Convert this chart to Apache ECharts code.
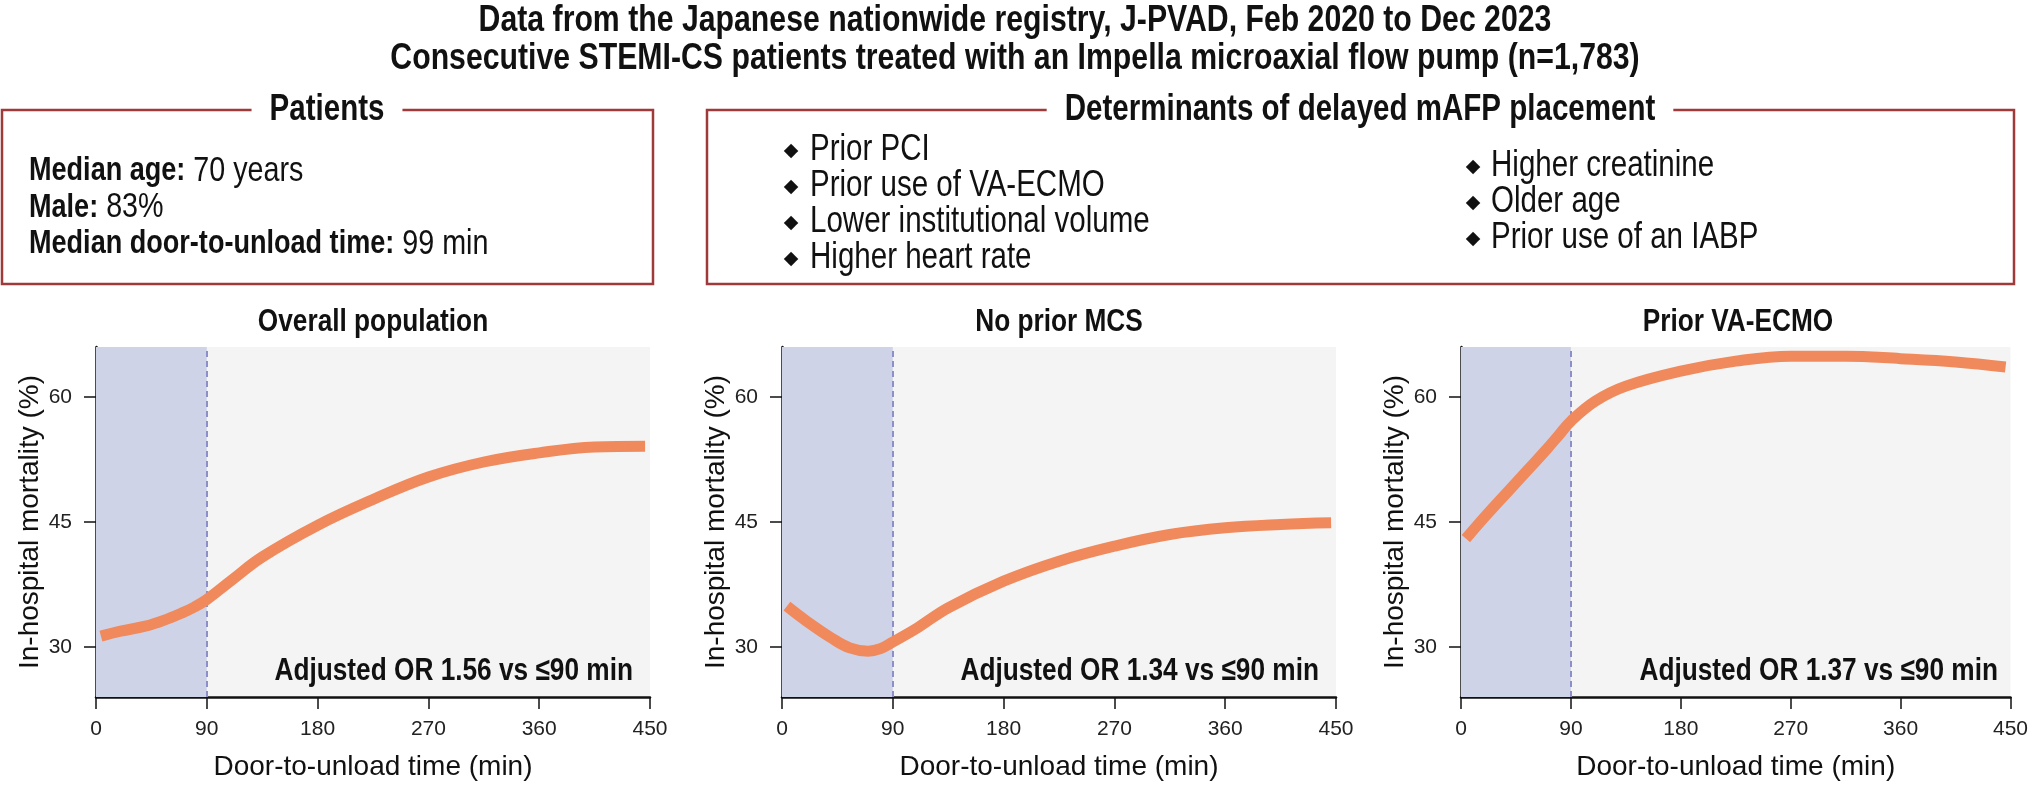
<!DOCTYPE html>
<html>
<head>
<meta charset="utf-8">
<script src="https://cdn.jsdelivr.net/npm/echarts@6/dist/echarts.min.js"></script>
<style>
html,body{margin:0;padding:0;background:#fff;}
#c{width:2031px;height:787px;}
</style>
</head>
<body>
<div id="c"></div>
<script>
// ---------- data ----------
const titleLines = [
  'Data from the Japanese nationwide registry, J-PVAD, Feb 2020 to Dec 2023',
  'Consecutive STEMI-CS patients treated with an Impella microaxial flow pump (n=1,783)'
];
const patientsHeading = 'Patients';
const patientLines = [
  ['Median age:', '70 years'],
  ['Male:', '83%'],
  ['Median door-to-unload time:', '99 min']
];
const determinantsHeading = 'Determinants of delayed mAFP placement';
const determinantsLeft = ['Prior PCI', 'Prior use of VA-ECMO', 'Lower institutional volume', 'Higher heart rate'];
const determinantsRight = ['Higher creatinine', 'Older age', 'Prior use of an IABP'];

const panelTitles = ['Overall population', 'No prior MCS', 'Prior VA-ECMO'];
const orLabels = ['Adjusted OR 1.56 vs \u226490 min', 'Adjusted OR 1.34 vs \u226490 min', 'Adjusted OR 1.37 vs \u226490 min'];
const xAxisTitle = 'Door-to-unload time (min)';
const yAxisTitle = 'In-hospital mortality (%)';
const yTicks = [30, 45, 60];
const cutoff = 90;

const times      = [4, 20, 40, 55, 70, 80, 90, 110, 135, 180, 225, 270, 315, 360, 405, 446];
const overall    = [31.3, 31.9, 32.5, 33.2, 34.1, 34.8, 35.7, 38.0, 40.8, 44.6, 47.7, 50.4, 52.2, 53.3, 54.0, 54.1];
const noPriorMcs = [34.9, 33.1, 31.1, 29.9, 29.5, 29.8, 30.6, 32.3, 34.7, 37.9, 40.3, 42.1, 43.5, 44.3, 44.7, 44.9];
const priorEcmo  = [43.0, 45.7, 48.9, 51.3, 53.7, 55.4, 57.1, 59.5, 61.3, 63.1, 64.3, 64.9, 64.9, 64.6, 64.2, 63.6];
const seriesValues = [overall, noPriorMcs, priorEcmo];

// ---------- style ----------
const FF = '"Liberation Sans", Arial, sans-serif';
const SX = 0.82; // horizontal squeeze to mimic a condensed face
const BOX = '#9f3a3a';
const LINE = '#f08a5d';
const SHADE = '#cfd3e8';
const PLOTBG = '#f4f4f4';
const DASH = '#8d90c8';

const panelLeft = [96, 782, 1461];
const panelW = 554, panelTop = 347, panelH = 350;

const chart = echarts.init(document.getElementById('c'), null, {renderer: 'canvas'});

const grids = [], xAxes = [], yAxes = [], series = [], graphics = [];

function txt(x, y, text, font, align, extra, sx) {
  return {type: 'text', x: x, y: y, z: 10, scaleX: sx || SX,
    style: Object.assign({text: text, fill: '#111', font: font, align: align, verticalAlign: 'middle'}, extra || {})};
}

panelLeft.forEach((l, i) => {
  grids.push({left: l, top: panelTop, width: panelW, height: panelH, show: true,
    backgroundColor: PLOTBG, borderWidth: 0, containLabel: false});
  xAxes.push({type: 'value', gridIndex: i, min: 0, max: 450, interval: 90,
    axisLine: {show: true, onZero: false, lineStyle: {color: '#111', width: 2.5}},
    axisTick: {show: true, length: 12, lineStyle: {color: '#111', width: 1.5}},
    axisLabel: {fontFamily: FF, fontSize: 21, color: '#222', margin: 22},
    splitLine: {show: false},
    name: xAxisTitle, nameLocation: 'middle', nameGap: 56,
    nameTextStyle: {fontFamily: FF, fontSize: 28, color: '#111'}});
  yAxes.push({type: 'value', gridIndex: i, min: 24, max: 66,
    axisLine: {show: true, onZero: false, lineStyle: {color: '#111', width: 2.5}},
    axisTick: {show: true, length: 12, customValues: yTicks, lineStyle: {color: '#111', width: 1.5}},
    axisLabel: {fontFamily: FF, fontSize: 21, color: '#222', margin: 24, customValues: yTicks},
    splitLine: {show: false},
    name: yAxisTitle, nameLocation: 'middle', nameGap: 50, nameRotate: 90,
    nameTextStyle: {fontFamily: FF, fontSize: 28, color: '#111'}});
  series.push({type: 'line', xAxisIndex: i, yAxisIndex: i,
    data: times.map((t, k) => [t, seriesValues[i][k]]),
    smooth: 0.4, showSymbol: false, symbol: 'none', z: 5,
    lineStyle: {color: LINE, width: 11, cap: 'butt'},
    markArea: {silent: true, itemStyle: {color: SHADE}, data: [[{xAxis: 0}, {xAxis: cutoff}]]},
    markLine: {silent: true, symbol: 'none', label: {show: false},
      lineStyle: {color: DASH, type: [6, 4], width: 2}, data: [{xAxis: cutoff}]}
  });
  graphics.push(txt(l + panelW / 2, 322, panelTitles[i], 'bold 32px ' + FF, 'center'));
  graphics.push(txt(l + panelW - 17, 671, orLabels[i], 'bold 32px ' + FF, 'right'));
});

// main title
graphics.push(txt(1015, 21, titleLines[0], 'bold 36px ' + FF, 'center', null, 0.84));
graphics.push(txt(1015, 59, titleLines[1], 'bold 36px ' + FF, 'center', null, 0.84));

// boxes
graphics.push({type: 'rect', shape: {x: 2, y: 110, width: 651, height: 174}, z: 1,
  style: {fill: '#fff', stroke: BOX, lineWidth: 2.5}});
graphics.push({type: 'rect', shape: {x: 707, y: 110, width: 1307, height: 174}, z: 1,
  style: {fill: '#fff', stroke: BOX, lineWidth: 2.5}});
graphics.push(txt(327, 110, patientsHeading, 'bold 36px ' + FF, 'center',
  {backgroundColor: '#fff', padding: [2, 22]}));
graphics.push(txt(1360, 110, determinantsHeading, 'bold 36px ' + FF, 'center',
  {backgroundColor: '#fff', padding: [2, 22]}));

const patientY = [171, 207.5, 244];
patientLines.forEach((p, k) => {
  graphics.push({type: 'text', x: 29, y: patientY[k], z: 10, scaleX: SX,
    style: {text: '{b|' + p[0] + '}{r| ' + p[1] + '}', align: 'left', verticalAlign: 'middle',
      rich: {
        b: {fontFamily: FF, fontWeight: 'bold', fontSize: 33, fill: '#111'},
        r: {fontFamily: FF, fontWeight: 'normal', fontSize: 35, fill: '#111'}
      }}});
});

const leftY = [150, 186, 222, 258];
determinantsLeft.forEach((t, k) => {
  graphics.push({type: 'text', x: 791, y: leftY[k] + 1, z: 10,
    style: {text: '\u25C6', fill: '#111', font: '19px "DejaVu Sans", sans-serif', align: 'center', verticalAlign: 'middle'}});
  graphics.push(txt(810, leftY[k], t, '36px ' + FF, 'left'));
});
const rightY = [166, 202, 238];
determinantsRight.forEach((t, k) => {
  graphics.push({type: 'text', x: 1473, y: rightY[k] + 1, z: 10,
    style: {text: '\u25C6', fill: '#111', font: '19px "DejaVu Sans", sans-serif', align: 'center', verticalAlign: 'middle'}});
  graphics.push(txt(1491, rightY[k], t, '36px ' + FF, 'left'));
});

chart.setOption({
  animation: false,
  backgroundColor: '#fff',
  grid: grids,
  xAxis: xAxes,
  yAxis: yAxes,
  series: series,
  graphic: graphics
});
</script>
</body>
</html>
